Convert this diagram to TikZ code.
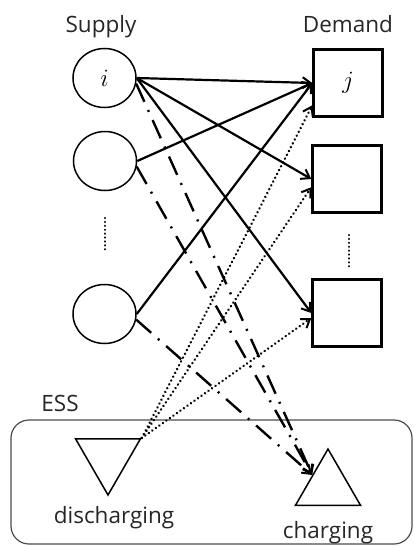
\documentclass[tikz,border=0pt]{standalone}
\usepackage{fontspec}
\setmainfont{Open Sans}
\usetikzlibrary{shapes.geometric,arrows.meta}
\begin{document}
\begin{tikzpicture}[x=1pt,y=-1pt,
  lbl/.style={font=\fontsize{22.5}{27}\selectfont, text=black!85, anchor=base, inner sep=0pt},
  supply/.style={draw, ellipse, line width=1.5pt, minimum width=63pt, minimum height=59pt, inner sep=0pt, font=\fontsize{24}{28}\selectfont},
  demand/.style={draw, rectangle, line width=2.4pt, minimum width=69pt, minimum height=67pt, inner sep=0pt, font=\fontsize{24}{28}\selectfont},
  tri/.style={draw, regular polygon, regular polygon sides=3, line width=1.5pt, minimum size=75pt, inner sep=0pt},
  essbox/.style={draw=black!70, line width=1.2pt, rounded corners=18pt, minimum width=401pt, minimum height=124pt, inner sep=0pt},
  tip/.style={-{Straight Barb[length=8pt,width=11pt,line width=2pt]}},
  flow/.style={tip, line width=2.2pt},
  chgflow/.style={tip, line width=2.4pt, dash pattern=on 20pt off 9pt on 2pt off 9pt},
  disflow/.style={tip, line width=2.6pt, line cap=round, dash pattern=on 0.1pt off 4.2pt},
  vdots/.style={line width=2.4pt, line cap=round, dash pattern=on 0.1pt off 3.8pt},
]
\useasboundingbox (0,0) rectangle (414,546);

% ESS container
\node[essbox] (ess) at (211.5,482) {};

% labels
\node[lbl] (sup) at (101,32) {Supply};
\node[lbl] (dem) at (348,32) {Demand};
\node[lbl] (esslbl) at (60,411) {ESS};
\node[lbl] (dislbl) at (114,523) {discharging};
\node[lbl] (chglbl) at (328,538) {charging};

% supply nodes
\node[supply] (c1) at (104.5,78) {$i$};
\node[supply] (c2) at (105,161) {};
\node[supply] (c3) at (104.5,314) {};

% demand nodes
\node[demand] (s1) at (348,83) {$j$};
\node[demand] (s2) at (347,179) {};
\node[demand] (s3) at (347,313) {};

% storage
\node[tri, shape border rotate=180] (dis) at (108,457.5) {};
\node[tri] (chg) at (328,486.5) {};

% vertical ellipses
\draw[vdots] (105,218) -- (105,252);
\draw[vdots] (349,235) -- (349,267);

% supply -> demand
\draw[flow] (c1.east) -- (s1.west);
\draw[flow] (c1.east) -- (s2.west);
\draw[flow] (c1.east) -- (s3.west);
\draw[flow] (c2.east) -- (s1.west);
\draw[flow] (c3.east) -- (s1.west);

% supply -> charging
\draw[chgflow] (c1.-10) -- (chg.144);
\draw[chgflow] (c2.-10) -- (chg.144);
\draw[chgflow] (c3.-10) -- (chg.144);

% discharging -> demand
\draw[disflow] (dis.30) -- (s1.212);
\draw[disflow] (dis.30) -- (s2.193);
\draw[disflow] (dis.30) -- (s3.188);
\end{tikzpicture}
\end{document}
